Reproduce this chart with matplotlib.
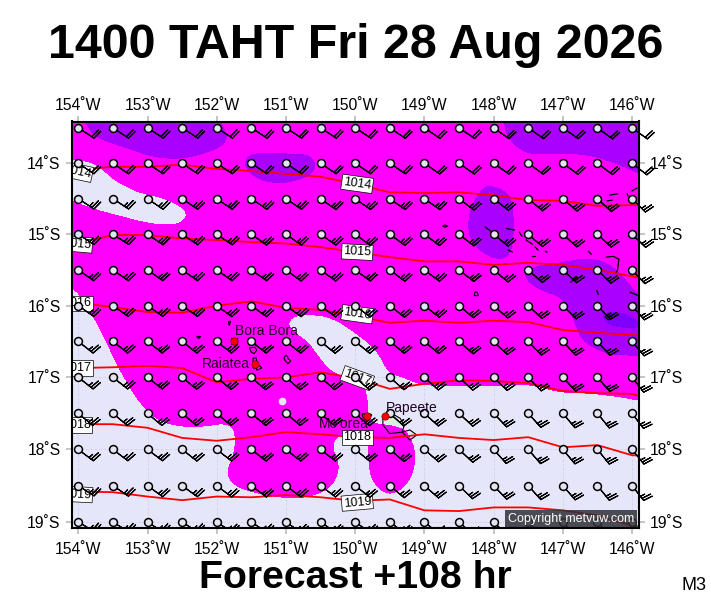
import numpy as np
import matplotlib
matplotlib.use("Agg")
import matplotlib.pyplot as plt
from matplotlib.transforms import Bbox, TransformedBbox, ScaledTranslation

plt.rcParams['font.family'] = ['Liberation Sans', 'DejaVu Sans']

title = "1400 TAHT Fri 28 Aug 2026"
subtitle = "Forecast +108 hr"
corner = "M3"
copyright_text = "Copyright metvuw.com"

lon_ticks = [-154, -153, -152, -151, -150, -149, -148, -147, -146]
lat_ticks = [-14, -15, -16, -17, -18, -19]

# wind grid, half degree
grid_lons = [-154, -153.5, -153, -152.5, -152, -151.5, -151, -150.5, -150,
             -149.5, -149, -148.5, -148, -147.5, -147, -146.5, -146]
grid_lats = [-13.5, -14, -14.5, -15, -15.5, -16, -16.5, -17, -17.5, -18, -18.5, -19]
row_speed = [20, 20, 25, 25, 25, 25, 25, 25, 25, 25, 25, 25]
wind_dir = [
    [123, 123, 123, 123, 123, 123, 123, 123, 123, 124, 124, 124, 125, 125, 125, 126, 126],
    [124, 124, 124, 124, 124, 124, 124, 124, 124, 124, 125, 125, 125, 126, 126, 127, 128],
    [123, 123, 124, 124, 124, 124, 124, 125, 125, 125, 125, 127, 128, 130, 131, 133, 135],
    [123, 123, 124, 124, 124, 125, 125, 125, 126, 126, 127, 128, 129, 131, 132, 133, 134],
    [125, 125, 125, 125, 125, 125, 126, 126, 126, 127, 127, 128, 130, 132, 133, 135, 137],
    [125, 125, 125, 125, 126, 126, 126, 127, 127, 128, 128, 130, 131, 133, 135, 137, 139],
    [128, 128, 128, 128, 128, 128, 128, 129, 129, 129, 130, 131, 134, 136, 137, 138, 140],
    [128, 128, 128, 129, 130, 131, 131, 131, 131, 131, 132, 133, 134, 136, 137, 139, 142],
    [130, 130, 130, 130, 130, 130, 130, 131, 131, 132, 132, 133, 136, 138, 140, 141, 143],
    [127, 127, 127, 128, 128, 128, 128, 128, 129, 130, 131, 133, 138, 139, 140, 141, 141],
    [123, 124, 126, 126, 127, 127, 127, 127, 128, 130, 131, 134, 136, 138, 139, 141, 142],
    [121, 122, 123, 123, 124, 124, 125, 125, 125, 127, 129, 132, 134, 136, 137, 139, 140],
]

# isobars, latitude at each grid longitude (plus one either side of the frame)
iso_lons = [-154.5] + grid_lons + [-145.5]
iso_1014 = [-14.09, -14.09, -14.05, -14.05, -14.02, -14.08, -14.11, -14.15, -14.19, -14.29,
            -14.41, -14.42, -14.41, -14.45, -14.52, -14.53, -14.60, -14.59, -14.59]
iso_1015 = [-15.13, -15.13, -15.01, -15.01, -15.06, -15.08, -15.11, -15.13, -15.18, -15.25,
            -15.32, -15.38, -15.38, -15.43, -15.40, -15.43, -15.50, -15.59, -15.68]
iso_1016 = [-15.96, -15.96, -16.02, -16.09, -16.10, -16.00, -15.94, -16.03, -16.06, -16.14,
            -16.24, -16.21, -16.24, -16.21, -16.23, -16.34, -16.38, -16.41, -16.44]
iso_1017 = [-16.87, -16.87, -16.86, -16.84, -16.87, -17.07, -17.02, -17.00, -16.93, -17.01,
            -17.16, -17.09, -17.04, -17.05, -17.08, -17.19, -17.22, -17.23, -17.37]
iso_1018 = [-17.65, -17.65, -17.65, -17.70, -17.84, -17.88, -17.83, -17.76, -17.79, -17.83,
            -17.84, -17.79, -17.84, -17.87, -17.83, -17.97, -17.94, -18.08, -18.10]
iso_1019 = [-18.58, -18.58, -18.59, -18.65, -18.70, -18.65, -18.66, -18.63, -18.66, -18.71,
            -18.69, -18.84, -18.85, -18.80, -18.80, -18.84, -18.91, -19.05, -19.10]
isobars = [iso_1014, iso_1015, iso_1016, iso_1017, iso_1018, iso_1019]
iso_names = ["1014", "1015", "1016", "1017", "1018", "1019"]
mid_label_lat = [-14.29, -15.25, -16.12, -17.01, -17.83, -18.73]
mid_label_rot = [-8, -3, -8, -20, 0, 5]
left_label_lat = [-14.12, -15.14, -15.97, -16.87, -17.66, -18.62]
left_label_rot = [-12, -5, 0, 0, 0, -3]

# filled regions, lon then lat
lav_nw_lon = [-154.26, -153.87, -153.69, -153.50, -153.30, -153.11, -152.82, -152.57, -152.43,
              -152.53, -152.72, -153.01, -153.40, -153.79, -154.26]
lav_nw_lat = [-13.94, -13.98, -14.07, -14.24, -14.35, -14.43, -14.49, -14.59, -14.72,
              -14.83, -14.86, -14.83, -14.73, -14.63, -14.45]
lav_main_lon = [-154.41, -154.08, -153.98, -153.83, -153.64, -153.47, -153.28, -153.11, -152.86,
                -152.49, -152.14, -151.91, -151.78, -151.74, -151.76, -151.88, -151.76, -151.37,
                -150.94, -150.61, -150.32, -150.22, -150.25, -150.32, -150.26, -150.12, -149.83,
                -149.81, -149.71, -149.54, -149.35, -149.16, -149.11, -149.21, -149.39, -149.81,
                -149.81, -149.97, -150.32, -150.51, -150.65, -150.84, -150.98, -150.80, -150.36,
                -149.93, -149.68, -149.54, -149.35, -149.07, -148.77, -148.30, -147.86, -147.52,
                -147.33, -147.04, -146.65, -146.27, -145.91, -145.59, -145.59, -145.59, -145.64,
                -154.36, -154.41, -154.41]
lav_main_lat = [-15.68, -15.78, -15.87, -16.10, -16.44, -16.80, -17.13, -17.38, -17.62,
                -17.70, -17.69, -17.65, -17.70, -17.84, -18.05, -18.33, -18.52, -18.63,
                -18.69, -18.66, -18.52, -18.29, -18.11, -17.97, -17.84, -17.77, -17.79,
                -18.33, -18.52, -18.63, -18.59, -18.38, -18.05, -17.77, -17.66, -17.63,
                -17.18, -17.04, -16.93, -16.72, -16.52, -16.38, -16.24, -16.13, -16.16,
                -16.44, -16.66, -16.94, -17.00, -17.11, -17.13, -17.13, -17.12, -17.11,
                -17.15, -17.22, -17.23, -17.27, -17.33, -17.39, -17.45, -19.35, -19.40,
                -19.40, -19.35, -15.75]
purple_a_lon = [-153.95, -153.83, -153.64, -153.30, -152.92, -152.53, -152.14, -151.91, -151.85, -151.91, -152.02, -153.90]
purple_a_lat = [-13.25, -13.56, -13.67, -13.78, -13.91, -13.94, -13.85, -13.74, -13.63, -13.49, -13.25, -13.25]
purple_b_lon = [-151.59, -151.52, -151.27, -151.09, -150.70, -150.57, -150.62, -150.84, -151.09, -151.37, -151.56]
purple_b_lat = [-13.98, -13.88, -13.85, -13.87, -13.87, -14.00, -14.14, -14.24, -14.28, -14.24, -14.09]
purple_c_lon = [-147.86, -147.83, -147.66, -147.43, -147.08, -146.60, -146.22, -145.90, -145.59, -145.59, -145.64, -147.82]
purple_c_lat = [-13.25, -13.57, -13.78, -13.88, -13.85, -13.88, -14.00, -14.14, -14.24, -13.30, -13.25, -13.25]
purple_d_lon = [-148.15, -148.34, -148.37, -148.22, -147.94, -147.76, -147.71, -147.73, -147.86, -148.05]
purple_d_lat = [-14.35, -14.62, -14.99, -15.22, -15.36, -15.29, -14.99, -14.52, -14.38, -14.32]
purple_e_lon = [-147.00, -146.65, -146.36, -146.13, -145.90, -145.59, -145.59, -145.62, -146.27, -146.56,
                -146.75, -146.85, -147.00, -147.33, -147.52, -147.55, -147.33]
purple_e_lat = [-15.40, -15.33, -15.40, -15.60, -15.88, -15.92, -16.65, -16.69, -16.69, -16.59,
                -16.44, -16.16, -15.88, -15.78, -15.64, -15.53, -15.43]
deep_lon = [-146.43, -146.36, -146.17, -145.93, -145.91, -146.07, -146.32]
deep_lat = [-16.16, -16.09, -16.10, -16.20, -16.30, -16.31, -16.27]

# islands (closed outlines)
islands = [
    ([-149.60, -149.47, -149.35, -149.29, -149.32, -149.50, -149.60], [-17.55, -17.50, -17.57, -17.66, -17.76, -17.78, -17.66]),
    ([-149.32, -149.21, -149.11, -149.21], [-17.76, -17.73, -17.80, -17.87]),
    ([-149.90, -149.81, -149.76, -149.80, -149.86, -149.89], [-17.51, -17.50, -17.52, -17.57, -17.58, -17.55]),
    ([-151.475, -151.43, -151.42, -151.35, -151.42, -151.43, -151.475], [-16.73, -16.73, -16.80, -16.87, -16.90, -16.87, -16.87]),
    ([-151.53, -151.45, -151.42, -151.46, -151.50], [-16.59, -16.58, -16.62, -16.67, -16.65]),
    ([-151.03, -151.00, -150.97, -150.97, -150.93, -150.97, -151.01], [-16.73, -16.69, -16.72, -16.74, -16.77, -16.81, -16.77]),
    ([-151.83, -151.80, -151.82], [-16.22, -16.22, -16.28]),
    ([-152.29, -152.23, -152.26], [-16.43, -16.43, -16.46]),
    ([-151.79, -151.71, -151.71, -151.79], [-16.45, -16.45, -16.53, -16.53]),
    ([-148.74, -148.70, -148.66, -148.70], [-14.885, -14.87, -14.885, -14.90]),
    ([-148.28, -148.22, -148.24, -148.27], [-15.86, -15.86, -15.81, -15.81]),
    ([-146.39, -146.34, -146.29, -146.34], [-16.16, -16.12, -16.16, -16.20]),
]
tahiti_green_lon = [-149.57, -149.47, -149.35, -149.31, -149.42, -149.53]
tahiti_green_lat = [-17.57, -17.54, -17.60, -17.66, -17.65, -17.65]

# tuamotu atoll pieces, open lines
atolls = [
    ([-148.12, -148.02, -148.01], [-14.90, -14.97, -15.04]),
    ([-147.81, -147.70], [-14.92, -14.94]),
    ([-147.63, -147.59], [-14.97, -15.03]),
    ([-147.53, -147.44], [-15.08, -15.14]),
    ([-147.40, -147.36], [-15.18, -15.22]),
    ([-147.25, -147.23], [-15.24, -15.25]),
    ([-147.79, -147.73], [-15.22, -15.25]),
    ([-147.44, -147.40], [-15.31, -15.31]),
    ([-146.63, -146.59], [-15.24, -15.28]),
    ([-146.37, -146.27, -146.19, -146.21, -146.23], [-15.32, -15.31, -15.35, -15.50, -15.54]),
    ([-146.89, -146.79], [-15.67, -15.61]),
    ([-146.51, -146.49], [-15.79, -15.84]),
    ([-146.03, -145.91], [-15.81, -15.86]),
    ([-146.32, -146.21], [-14.45, -14.43]),
    ([-146.36, -146.29], [-14.53, -14.52]),
    ([-146.07, -146.06], [-14.43, -14.46]),
    ([-146.00, -145.93], [-14.39, -14.35]),
]

town_lons = [-151.75, -151.45, -149.83, -149.57]
town_lats = [-16.49, -16.81, -17.54, -17.54]
place_names = ["Bora Bora", "Raiatea", "Mo'orea", "Papeete"]
place_lons = [-151.74, -152.21, -150.52, -149.55]
place_lats = [-16.36, -16.81, -17.65, -17.42]

MAGENTA = '#ff00ff'
LAVENDER = '#e6e6fa'
PURPLE = '#aa00ff'
DEEP = '#7f00ff'


def merc(lat):
    return np.degrees(np.log(np.tan(np.pi / 4 + np.radians(lat) / 2)))


def merc_inv(y):
    return np.degrees(2 * np.arctan(np.exp(np.radians(y))) - np.pi / 2)


def smooth(lons, lats, n=2):
    # corner cutting, the traced outlines are a bit coarse
    pts = np.column_stack([lons, lats])
    for i in range(n):
        nxt = np.roll(pts, -1, axis=0)
        pts = np.column_stack([0.75 * pts + 0.25 * nxt, 0.25 * pts + 0.75 * nxt]).reshape(-1, 2)
    return pts[:, 0], pts[:, 1]


fig = plt.figure(figsize=(7.11, 6.0), dpi=100)
ax = fig.add_axes([71.7 / 711, 1 - 528.3 / 600, (639 - 71.7) / 711, (528.3 - 121.5) / 600])
ax.set_yscale('function', functions=(merc, merc_inv))
ax.set_xlim(-154.095, -145.9)
ax.set_ylim(-19.087, -13.41)
ax.set_facecolor(MAGENTA)

for lons, lats, col in [(purple_a_lon, purple_a_lat, PURPLE), (purple_b_lon, purple_b_lat, PURPLE),
                        (purple_c_lon, purple_c_lat, PURPLE), (purple_d_lon, purple_d_lat, PURPLE),
                        (purple_e_lon, purple_e_lat, PURPLE), (deep_lon, deep_lat, DEEP),
                        (lav_nw_lon, lav_nw_lat, LAVENDER)]:
    x, y = smooth(lons, lats)
    ax.fill(x, y, color=col, lw=0, antialiased=False, zorder=1)

x, y = smooth(lav_main_lon, lav_main_lat)
main_patch = ax.fill(x, y, color=LAVENDER, lw=0, antialiased=False, zorder=1)[0]
ax.scatter([-151.06], [-17.33], s=30, color=LAVENDER, lw=0, zorder=1)

# faint grid only shows on the pale part
for lo in lon_ticks:
    g = ax.axvline(lo, color='#d4d4e8', lw=0.6, ls='--', zorder=1.5)
    g.set_clip_path(main_patch)
for la in lat_ticks:
    g = ax.axhline(la, color='#d4d4e8', lw=0.6, ls='--', zorder=1.5)
    g.set_clip_path(main_patch)

ax.fill(tahiti_green_lon, tahiti_green_lat, color='#d8f0d8', lw=0, zorder=2)
for lons, lats in islands:
    ax.fill(lons, lats, facecolor='none', edgecolor='k', lw=0.8, zorder=2.1)
for lons, lats in atolls:
    ax.plot(lons, lats, color='k', lw=0.9, zorder=2.1)

for i, lats in enumerate(isobars):
    ax.plot(iso_lons, lats, color='#ff0000', lw=1.3, zorder=3)
    box = dict(facecolor='white', edgecolor='k', lw=0.5, pad=1.2)
    ax.text(-149.97, mid_label_lat[i], iso_names[i], rotation=mid_label_rot[i], fontsize=9,
            ha='center', va='center', bbox=box, zorder=3.5, rotation_mode='anchor')
    ax.text(-154.02, left_label_lat[i], iso_names[i], rotation=left_label_rot[i], fontsize=9,
            ha='center', va='center', bbox=box, zorder=3.5, rotation_mode='anchor', clip_on=True)

lon_grid, lat_grid = np.meshgrid(grid_lons, grid_lats)
speed = np.array(row_speed)[:, None] * np.ones(lon_grid.shape)
theta = np.radians(np.array(wind_dir))
u = -speed * np.sin(theta)
v = -speed * np.cos(theta)
b = ax.barbs(lon_grid, lat_grid, u, v, pivot='tip', length=5.2, linewidth=0.85, color='k',
             flip_barb=True, zorder=4,
             sizes=dict(spacing=0.14, height=0.5, width=0.2, emptybarb=0))
b.set_clip_box(TransformedBbox(Bbox([[0, 0], [1.1, 1]]), ax.transAxes))
ax.scatter(lon_grid, lat_grid, s=32, facecolor='#e4e4f4', edgecolor='k', lw=1.1, zorder=5)

ax.scatter(town_lons, town_lats, s=28, color='#ff0000', edgecolor='#600000', lw=0.4, zorder=6)
for i, name in enumerate(place_names):
    ax.text(place_lons[i], place_lats[i], name, fontsize=10, color='#200020', ha='left', va='center', zorder=6)

ax.text(-146.88, -18.96, copyright_text, color='white', fontsize=9, ha='center', va='center', zorder=7,
        bbox=dict(facecolor='#303038', edgecolor='none', alpha=0.85, pad=2))

for s in ax.spines.values():
    s.set_linewidth(1.5)
    s.set_zorder(8)

ax.set_xticks(lon_ticks)
ax.set_xticklabels([f"{abs(l)}˚W" for l in lon_ticks])
ax.set_yticks(lat_ticks)
ax.set_yticklabels([f"{abs(l)}˚S" for l in lat_ticks])
ax.minorticks_off()
ax.tick_params(axis='both', which='major', top=True, bottom=True, left=True, right=True,
               labeltop=True, labelbottom=True, labelleft=True, labelright=True,
               color='#b4b4b4', length=4.5, width=1.1, pad=3.5, labelsize=11.3)

# top labels sit a little lower, bottom ones too
shift = ScaledTranslation(0, -2.0 / 72, fig.dpi_scale_trans)
for tick in ax.xaxis.get_major_ticks():
    tick.label1.set_transform(tick.label1.get_transform() + shift)
    tick.label2.set_transform(tick.label2.get_transform() + shift)

fig.text(356 / 711, 1 - 46 / 600, title, fontsize=34.8, fontweight='bold', ha='center', va='center')
fig.text(355 / 711, 1 - 578 / 600, subtitle, fontsize=28.3, fontweight='bold', ha='center', va='center')
fig.text(694 / 711, 1 - 585.5 / 600, corner, fontsize=13, ha='center', va='center')

fig.savefig("out.png", dpi=100)
